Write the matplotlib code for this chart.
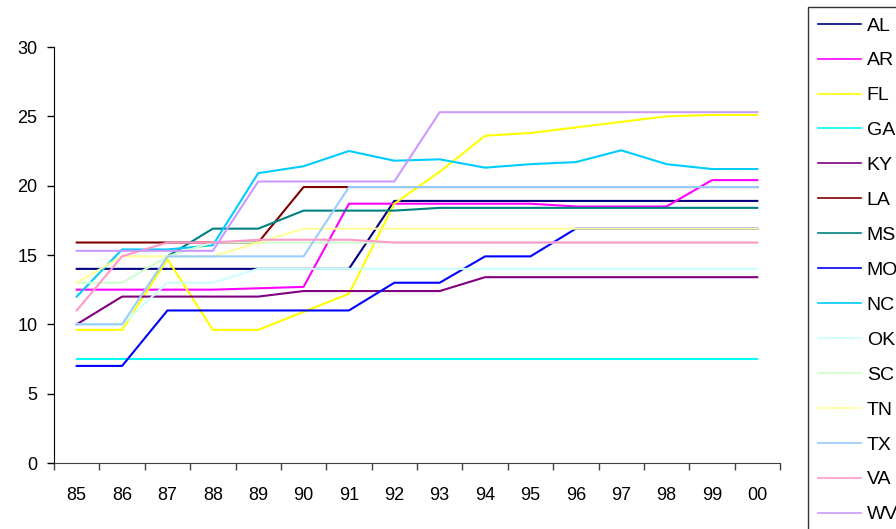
import numpy as np
import matplotlib
matplotlib.use("Agg")
import matplotlib.pyplot as plt

plt.rcParams['font.family'] = ['Liberation Sans', 'DejaVu Sans']

years = ['85', '86', '87', '88', '89', '90', '91', '92',
         '93', '94', '95', '96', '97', '98', '99', '00']
nan = np.nan

AL = [14.0, 14.0, 14.0, 14.0, 14.0, 14.0, 14.0, 18.9, 18.9, 18.9, 18.9, 18.9, 18.9, 18.9, 18.9, 18.9]
AR = [12.5, 12.5, 12.5, 12.5, 12.6, 12.7, 18.7, 18.7, 18.7, 18.7, 18.7, 18.5, 18.5, 18.5, 20.4, 20.4]
FL = [9.6, 9.6, 14.7, 9.6, 9.6, 10.9, 12.2, 18.7, 21.0, 23.6, 23.8, 24.2, 24.6, 25.0, 25.1, 25.1]
GA = [7.5] * 16
KY = [10.0, 12.0, 12.0, 12.0, 12.0, 12.4, 12.4, 12.4, 12.4, 13.4, 13.4, 13.4, 13.4, 13.4, 13.4, 13.4]
LA = [15.9, 15.9, 15.9, 15.9, 15.9, 19.9, 19.9, 19.9, 19.9, 19.9, 19.9, 19.9, 19.9, 19.9, 19.9, 19.9]
MS = [nan, nan, 14.9, 16.9, 16.9, 18.2, 18.2, 18.2, 18.4, 18.4, 18.4, 18.4, 18.4, 18.4, 18.4, 18.4]
MO = [7.0, 7.0, 11.0, 11.0, 11.0, 11.0, 11.0, 13.0, 13.0, 14.9, 14.9, 16.9, 16.9, 16.9, 16.9, 16.9]
NC = [12.0, 15.4, 15.4, 15.7, 20.9, 21.4, 22.5, 21.8, 21.9, 21.3, 21.55, 21.7, 22.55, 21.55, 21.2, 21.2]
OK = [10.0, 10.0, 13.0, 13.0, 14.0, 14.0, 14.0, 14.0, 14.0, 14.0, 14.0, 14.0, 14.0, 14.0, 14.0, 14.0]
SC = [13.0, 13.0, 14.9, 15.9, 15.9, 15.9, 15.9, 15.9, 15.9, 15.9, 15.9, 15.9, 15.9, 15.9, 15.9, 15.9]
TN = [13.0, 14.9, 14.9, 14.9, 15.9, 16.9, 16.9, 16.9, 16.9, 16.9, 16.9, 16.9, 16.9, 16.9, 16.9, 16.9]
TX = [10.0, 10.0, 14.9, 14.9, 14.9, 14.9, 19.9, 19.9, 19.9, 19.9, 19.9, 19.9, 19.9, 19.9, 19.9, 19.9]
VA = [11.0, 14.9, 15.9, 15.9, 16.1, 16.1, 16.1, 15.9, 15.9, 15.9, 15.9, 15.9, 15.9, 15.9, 15.9, 15.9]
WV = [15.3, 15.3, 15.3, 15.3, 20.3, 20.3, 20.3, 20.3, 25.3, 25.3, 25.3, 25.3, 25.3, 25.3, 25.3, 25.3]

states = ['AL', 'AR', 'FL', 'GA', 'KY', 'LA', 'MS', 'MO',
          'NC', 'OK', 'SC', 'TN', 'TX', 'VA', 'WV']
series = [AL, AR, FL, GA, KY, LA, MS, MO, NC, OK, SC, TN, TX, VA, WV]
colors = ['#000080', '#FF00FF', '#FFFF00', '#00FFFF', '#800080', '#800000',
          '#008080', '#0000FF', '#00CCFF', '#CCFFFF', '#CCFFCC', '#FFFF99',
          '#99CCFF', '#FF99CC', '#CC99FF']

fig = plt.figure(figsize=(8.96, 5.29), dpi=100)
ax = fig.add_axes([54 / 896, 1 - 463 / 529, (780 - 54) / 896, (463 - 47) / 529])

x = np.arange(len(years))
for name, vals, c in zip(states, series, colors):
    ax.plot(x, vals, color=c, lw=1.5, label=name)

ax.set_xlim(-0.5, len(years) - 0.5)
ax.set_ylim(0, 30)
ax.set_yticks(np.arange(0, 31, 5))

# tick marks sit between categories, labels sit on them
ax.set_xticks(np.arange(-0.5, len(years), 1))
ax.set_xticklabels([])
ax.set_xticks(x, minor=True)
ax.set_xticklabels(years, minor=True)
ax.tick_params(axis='x', which='major', direction='out', length=5, width=1, color='#404040')
ax.tick_params(axis='x', which='minor', length=0, pad=17, labelsize=13)
ax.tick_params(axis='y', direction='out', length=5, width=1, pad=7, labelsize=13)

for s in ['top', 'right']:
    ax.spines[s].set_visible(False)
ax.spines['left'].set_color('black')
ax.spines['bottom'].set_color('#404040')

# legend runs past the right and bottom edges of the canvas
leg = fig.legend(loc='upper left', bbox_to_anchor=(808 / 896, 1 - 7 / 529),
                 fontsize=14, frameon=True, fancybox=False, edgecolor='black',
                 handlelength=2.23, handletextpad=0.28, labelspacing=0.89,
                 borderpad=0.51, borderaxespad=0)
leg.get_frame().set_linewidth(1.0)
for line in leg.get_lines():
    line.set_linewidth(1.2)

fig.savefig('out.png', dpi=100)
